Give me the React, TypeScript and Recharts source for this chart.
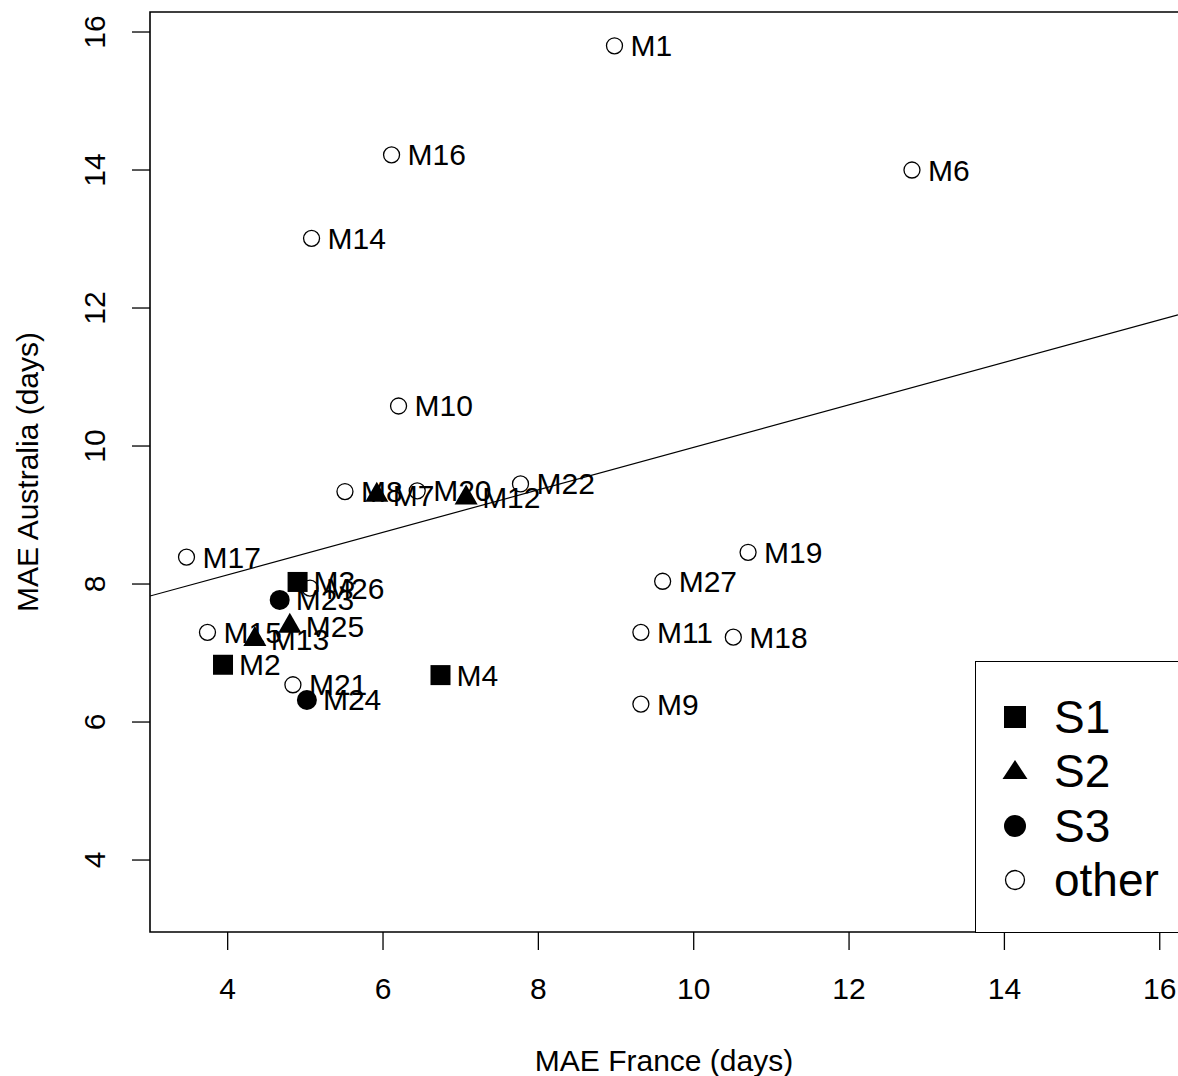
import { ScatterChart, Scatter, XAxis, YAxis, ReferenceLine, ReferenceArea } from 'recharts'

// model labels and MAE values (days)
const otherNames = ['M1', 'M16', 'M6', 'M14', 'M10', 'M17', 'M8', 'M20', 'M22', 'M26', 'M15', 'M21', 'M19', 'M27', 'M11', 'M18', 'M9']
const otherFrance = [8.98, 6.11, 12.81, 5.08, 6.2, 3.47, 5.51, 6.44, 7.77, 5.06, 3.74, 4.84, 10.7, 9.6, 9.32, 10.51, 9.32]
const otherAustralia = [15.8, 14.22, 14.0, 13.01, 10.58, 8.39, 9.34, 9.35, 9.45, 7.94, 7.3, 6.54, 8.46, 8.04, 7.3, 7.23, 6.26]

const s1Names = ['M3', 'M2', 'M4']
const s1France = [4.9, 3.94, 6.74]
const s1Australia = [8.03, 6.83, 6.68]

const s2Names = ['M7', 'M12', 'M25', 'M13']
const s2France = [5.92, 7.07, 4.8, 4.35]
const s2Australia = [9.29, 9.25, 7.39, 7.2]

const s3Names = ['M23', 'M24']
const s3France = [4.67, 5.02]
const s3Australia = [7.77, 6.32]

// fitted line: Australia = a + b * France
const FIT_A = 6.903
const FIT_B = 0.3078

const xTicks = [4, 6, 8, 10, 12, 14, 16]
const yTicks = [4, 6, 8, 10, 12, 14, 16]
const X_DOMAIN: [number, number] = [3, 16.235]
const Y_DOMAIN: [number, number] = [2.957, 16.29]

const FONT = '"Liberation Sans", Arial, Helvetica, sans-serif'

const toRows = (names: string[], xs: number[], ys: number[]) =>
  names.map((name, i) => ({ name, x: xs[i], y: ys[i] }))

const otherData = toRows(otherNames, otherFrance, otherAustralia)
const s1Data = toRows(s1Names, s1France, s1Australia)
const s2Data = toRows(s2Names, s2France, s2Australia)
const s3Data = toRows(s3Names, s3France, s3Australia)

function PointLabel({ cx, cy, name }: { cx: number; cy: number; name: string }) {
  return (
    <text x={cx + 16} y={cy} dominantBaseline="central" fontSize={30} fontFamily={FONT} fill="#000">
      {name}
    </text>
  )
}

const squareShape = (p: any) => (
  <g>
    <rect x={p.cx - 10} y={p.cy - 10} width={20} height={20} fill="#000" />
    <PointLabel cx={p.cx} cy={p.cy} name={p.payload.name} />
  </g>
)

const triangleShape = (p: any) => {
  const r = 13.3
  const pts = `${p.cx},${p.cy - r} ${p.cx + r * 0.866},${p.cy + r / 2} ${p.cx - r * 0.866},${p.cy + r / 2}`
  return (
    <g>
      <polygon points={pts} fill="#000" />
      <PointLabel cx={p.cx} cy={p.cy} name={p.payload.name} />
    </g>
  )
}

const dotShape = (p: any) => (
  <g>
    <circle cx={p.cx} cy={p.cy} r={10} fill="#000" />
    <PointLabel cx={p.cx} cy={p.cy} name={p.payload.name} />
  </g>
)

const openShape = (p: any) => (
  <g>
    <circle cx={p.cx} cy={p.cy} r={8} fill="none" stroke="#000" strokeWidth={1.3} />
    <PointLabel cx={p.cx} cy={p.cy} name={p.payload.name} />
  </g>
)

const XTick = ({ x, y, payload }: any) => (
  <text x={x} y={y + 38} textAnchor="middle" dominantBaseline="central" fontSize={30} fontFamily={FONT} fill="#000">
    {payload.value}
  </text>
)

const YTick = ({ x, y, payload }: any) => (
  <text
    x={x - 37}
    y={y}
    transform={`rotate(-90 ${x - 37} ${y})`}
    textAnchor="middle"
    dominantBaseline="central"
    fontSize={30}
    fontFamily={FONT}
    fill="#000"
  >
    {payload.value}
  </text>
)

const XTitle = ({ viewBox }: any) => (
  <text x={viewBox.x + viewBox.width / 2} y={viewBox.y + 128} textAnchor="middle" dominantBaseline="central" fontSize={30} fontFamily={FONT} fill="#000">
    MAE France (days)
  </text>
)

const YTitle = ({ viewBox }: any) => {
  const cx = 27
  const cy = viewBox.y + viewBox.height / 2
  return (
    <text x={cx} y={cy} transform={`rotate(-90 ${cx} ${cy})`} textAnchor="middle" dominantBaseline="central" fontSize={30} fontFamily={FONT} fill="#000">
      MAE Australia (days)
    </text>
  )
}

const legendItems = [
  { label: 'S1', kind: 'square' },
  { label: 'S2', kind: 'triangle' },
  { label: 'S3', kind: 'dot' },
  { label: 'other', kind: 'open' },
]

function LegendSymbol({ kind }: { kind: string }) {
  return (
    <svg width={30} height={30} style={{ position: 'absolute', left: 24, top: 12 }}>
      {kind === 'square' && <rect x={4} y={4} width={22} height={22} fill="#000" />}
      {kind === 'triangle' && <polygon points="15,4 27.5,23 2.5,23" fill="#000" />}
      {kind === 'dot' && <circle cx={15} cy={15} r={11} fill="#000" />}
      {kind === 'open' && <circle cx={15} cy={15} r={9.5} fill="none" stroke="#000" strokeWidth={1.3} />}
    </svg>
  )
}

export default function App() {
  return (
    <div style={{ position: 'absolute', left: 0, top: 0, width: 1178, height: 1076, overflow: 'hidden', background: '#fff' }}>
      <ScatterChart width={1178} height={1076} margin={{ top: 12, right: 0, bottom: 0, left: 0 }}>
        <XAxis
          type="number"
          dataKey="x"
          domain={X_DOMAIN}
          ticks={xTicks}
          allowDataOverflow
          height={144}
          axisLine={false}
          tickLine={{ stroke: '#000', strokeWidth: 1.3 }}
          tickSize={18}
          tickMargin={0}
          tick={<XTick />}
          label={<XTitle />}
        />
        <YAxis
          type="number"
          dataKey="y"
          domain={Y_DOMAIN}
          ticks={yTicks}
          allowDataOverflow
          width={150}
          axisLine={false}
          tickLine={{ stroke: '#000', strokeWidth: 1.3 }}
          tickSize={18}
          tickMargin={0}
          tick={<YTick />}
          label={<YTitle />}
        />
        {/* plot box; its right side runs past the cropped edge, as in the source */}
        <ReferenceArea
          x1={X_DOMAIN[0]}
          x2={16.4}
          y1={Y_DOMAIN[0]}
          y2={Y_DOMAIN[1]}
          fill="none"
          fillOpacity={0}
          stroke="#000"
          strokeWidth={1.6}
          ifOverflow="visible"
        />
        <ReferenceLine
          segment={[
            { x: X_DOMAIN[0], y: FIT_A + FIT_B * X_DOMAIN[0] },
            { x: X_DOMAIN[1], y: FIT_A + FIT_B * X_DOMAIN[1] },
          ]}
          stroke="#000"
          strokeWidth={1.2}
          ifOverflow="hidden"
        />
        <Scatter name="other" data={otherData} shape={openShape} isAnimationActive={false} />
        <Scatter name="S1" data={s1Data} shape={squareShape} isAnimationActive={false} />
        <Scatter name="S2" data={s2Data} shape={triangleShape} isAnimationActive={false} />
        <Scatter name="S3" data={s3Data} shape={dotShape} isAnimationActive={false} />
      </ScatterChart>
      <div
        style={{
          position: 'absolute',
          left: 975,
          top: 661,
          width: 240,
          height: 270,
          border: '1.6px solid #000',
          background: '#fff',
          fontFamily: FONT,
        }}
      >
        {legendItems.map((it, i) => (
          <div key={it.label} style={{ position: 'absolute', left: 0, top: 28 + i * 54.3, width: 220, height: 54 }}>
            <LegendSymbol kind={it.kind} />
            <span style={{ position: 'absolute', left: 78, top: 0, lineHeight: '54px', fontSize: 46, color: '#000' }}>{it.label}</span>
          </div>
        ))}
      </div>
    </div>
  )
}
